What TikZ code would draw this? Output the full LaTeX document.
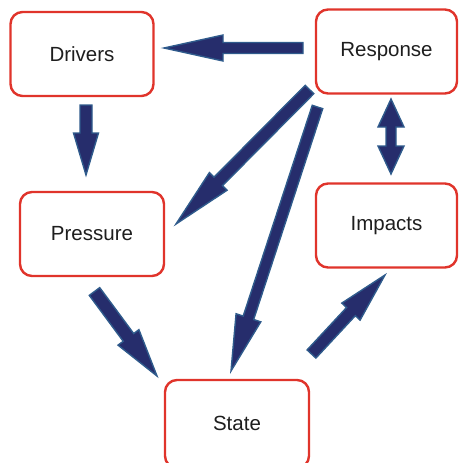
\documentclass[tikz,border=0pt]{standalone}
\usepackage{fontspec}
\setmainfont{Liberation Sans}
\usetikzlibrary{calc}
\definecolor{boxred}{HTML}{E0342B}
\definecolor{arrownavy}{HTML}{262D6C}
\definecolor{arrowedge}{HTML}{2F5B8C}
\definecolor{labelink}{HTML}{1E1E1E}

\tikzset{
  stage/.style={draw=boxred, line width=2.4pt, rounded corners=12pt, fill=white,
    minimum width=#1, minimum height=84pt, inner sep=0pt,
    text=labelink, font=\fontsize{20.5}{24}\selectfont},
  stage/.default=143pt,
  arrowbody/.style={fill=arrownavy, draw=arrowedge, line width=1.4pt, line join=miter}
}

% single block arrow: #1 tail, #2 tip, #3 head length, #4 shaft half width, #5 head half width
\newcommand\blockarrow[5]{%
  \coordinate (hb) at ($(#2)!#3!(#1)$);
  \filldraw[arrowbody]
    ($(#1)!#4!90:(#2)$) -- ($(hb)!#4!90:(#2)$) -- ($(hb)!#5!90:(#2)$) -- (#2)
    -- ($(hb)!#5!-90:(#2)$) -- ($(hb)!#4!-90:(#2)$) -- ($(#1)!#4!-90:(#2)$) -- cycle;
}
% two-headed block arrow between tips #1 and #2
\newcommand\twinarrow[5]{%
  \coordinate (ha) at ($(#1)!#3!(#2)$);
  \coordinate (hb) at ($(#2)!#3!(#1)$);
  \filldraw[arrowbody]
    (#1) -- ($(ha)!#5!90:(#2)$) -- ($(ha)!#4!90:(#2)$) -- ($(hb)!#4!-90:(#1)$)
    -- ($(hb)!#5!-90:(#1)$) -- (#2) -- ($(hb)!#5!90:(#1)$) -- ($(hb)!#4!90:(#1)$)
    -- ($(ha)!#4!-90:(#2)$) -- ($(ha)!#5!-90:(#2)$) -- cycle;
}

\begin{document}
\begin{tikzpicture}[x=1pt, y=-1pt]
  \useasboundingbox (0,0) rectangle (458,463);

  % DPSIR stages
  \node[stage] (drivers)  at (82,54)     {Drivers};
  \node[stage=141pt] (response) at (386.5,51.5) {Response};
  \node[stage=141pt] (impacts)  at (386.5,225.5) {Impacts};
  \node[stage=144pt] (pressure) at (92,234)  {Pressure};
  \node[stage=144pt, minimum height=88pt] (state) at (237,424) {\raisebox{2pt}{State}};

  % arrow end points
  \coordinate (dp-s) at (86,105);      \coordinate (dp-t) at (86,175);
  \coordinate (rd-s) at (303,48);      \coordinate (rd-t) at (164,48);
  \coordinate (rp-s) at (309.5,89.5);  \coordinate (rp-t) at (176,224);
  \coordinate (rs-s) at (317.5,107);   \coordinate (rs-t) at (231,371);
  \coordinate (ps-s) at (94.5,291.5);  \coordinate (ps-t) at (157,376);
  \coordinate (si-s) at (311.5,354);   \coordinate (si-t) at (385,275);
  \coordinate (ri-a) at (391,99);      \coordinate (ri-b) at (391,174);

  % causal links
  \blockarrow{dp-s}{dp-t}{42pt}{6pt}{12.5pt}
  \blockarrow{rd-s}{rd-t}{59pt}{5.5pt}{13pt}
  \blockarrow{rp-s}{rp-t}{60pt}{6pt}{12.5pt}
  \blockarrow{rs-s}{rs-t}{56pt}{5.5pt}{13pt}
  \blockarrow{ps-s}{ps-t}{48pt}{6.5pt}{13pt}
  \blockarrow{si-s}{si-t}{50pt}{6pt}{12.5pt}
  \twinarrow{ri-a}{ri-b}{28pt}{5pt}{13pt}
\end{tikzpicture}
\end{document}
